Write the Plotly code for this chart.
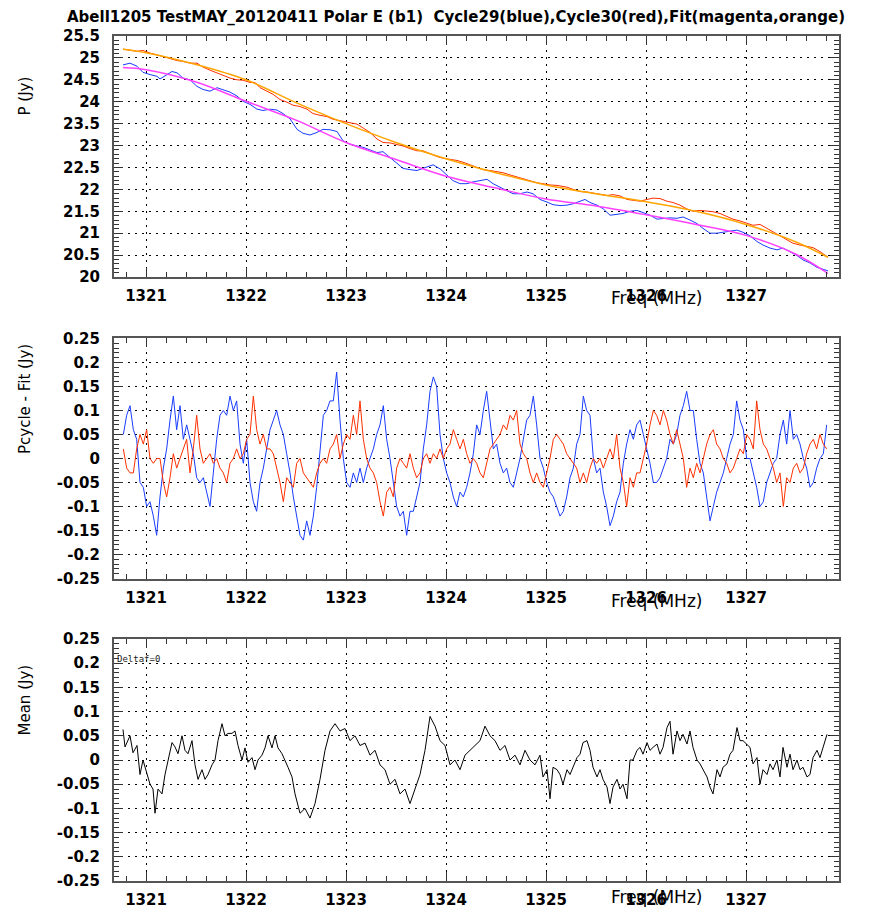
import numpy as np
import plotly.graph_objects as go

# ---------------- data ----------------
# residual channels: uniform frequency grid
F0 = 1320.7733
DF = 1.0 / 30.0
NCH = 212

resid_blue = [
    0.05,0.09,0.11,0.06,0.04,-0.05,-0.06,-0.1,-0.09,-0.12,
    -0.16,-0.08,-0.02,0.02,0.08,0.13,0.06,0.11,0.04,0.07,
    0.04,0.01,-0.04,-0.05,-0.04,-0.07,-0.1,-0.03,0.04,0.09,
    0.1,0.09,0.13,0.1,0.12,0.03,-0.01,0.04,-0.05,-0.09,
    -0.11,-0.05,-0.02,0.02,0.06,0.08,0.1,0.07,0.05,0.01,
    -0.03,-0.08,-0.12,-0.16,-0.17,-0.13,-0.16,-0.12,-0.06,0.01,
    0.09,0.1,0.12,0.12,0.18,
    0.08,0.0,-0.05,-0.06,-0.03,-0.05,-0.02,-0.05,-0.02,0.0,
    0.02,0.05,0.07,0.11,0.04,0.0,-0.05,-0.1,-0.12,-0.11,
    -0.16,-0.11,-0.11,-0.08,-0.05,0.02,0.07,0.14,0.17,0.15,
    0.05,0.0,-0.03,-0.05,-0.08,-0.1,-0.07,-0.08,-0.06,-0.03,
    0.01,0.07,0.05,0.1,0.14,0.08,0.02,0.03,-0.01,-0.03,
    -0.02,-0.05,-0.06,-0.03,0.0,0.04,0.08,0.09,0.13,0.07,
    0.0,-0.02,-0.05,-0.07,-0.08,-0.1,-0.12,-0.11,-0.08,-0.04,
    -0.02,0.03,
    0.05,0.13,0.1,0.09,0.0,-0.03,-0.02,-0.07,-0.1,-0.14,
    -0.12,-0.09,-0.07,-0.01,0.03,0.06,0.04,0.07,0.08,0.05,
    0.02,-0.01,-0.05,-0.05,-0.04,-0.02,0.0,0.04,0.03,0.05,
    0.09,0.11,0.14,0.1,0.1,0.04,-0.01,-0.03,-0.08,-0.13,
    -0.1,-0.07,-0.05,-0.03,0.0,0.03,0.05,0.12,0.08,0.06,
    0.0,0.0,-0.03,-0.06,-0.1,-0.09,-0.05,-0.03,-0.01,0.0,
    0.05,0.08,0.03,0.1,0.04,0.05,0.03,0.0,-0.02,-0.06,
    -0.05,-0.02,0.0,0.01,0.07,
]

resid_red = [
    0.02,-0.02,-0.03,-0.03,0.02,0.05,0.03,0.06,0.0,-0.01,
    0.0,0.0,-0.05,-0.08,-0.04,0.01,-0.02,0.0,0.02,0.04,
    -0.03,0.02,0.09,0.02,-0.01,0.0,0.01,-0.01,0.0,-0.02,
    -0.03,-0.05,-0.01,0.0,0.02,0.0,0.01,0.04,0.05,0.13,
    0.06,0.03,0.05,0.02,0.02,0.01,-0.02,-0.05,-0.09,-0.04,
    -0.05,-0.06,-0.01,0.0,-0.03,-0.04,-0.05,-0.06,-0.03,-0.01,
    0.0,-0.01,0.02,0.03,0.05,
    0.0,0.03,0.05,0.04,0.09,0.05,0.12,0.04,0.0,-0.02,
    -0.03,-0.05,-0.09,-0.12,-0.07,-0.06,-0.08,-0.02,0.0,-0.01,
    -0.02,0.01,-0.02,-0.04,-0.03,0.0,0.01,-0.01,0.01,0.0,
    0.02,0.0,0.02,0.03,0.06,0.04,0.02,0.04,0.01,-0.01,
    0.0,-0.01,-0.03,-0.04,-0.01,0.02,0.03,0.04,0.05,0.07,
    0.06,0.09,0.08,0.1,0.03,0.01,0.0,-0.03,-0.05,-0.03,
    -0.05,-0.06,-0.03,0.0,0.04,0.05,0.04,0.03,0.01,0.0,
    -0.01,-0.02,
    -0.05,-0.03,-0.05,-0.02,0.0,-0.01,0.0,-0.02,0.0,0.02,
    0.0,0.05,-0.02,-0.05,-0.1,-0.04,-0.06,-0.03,-0.03,0.0,
    0.03,0.07,0.1,0.09,0.07,0.1,0.08,0.05,0.03,0.06,
    0.03,0.0,-0.06,-0.02,-0.04,-0.01,-0.03,0.0,0.03,0.05,
    0.06,0.03,0.02,0.0,-0.01,-0.03,-0.02,0.0,0.02,0.01,
    0.05,0.04,0.02,0.12,0.06,0.03,0.02,0.0,-0.02,-0.05,
    -0.03,-0.1,-0.04,-0.05,-0.02,-0.01,-0.03,-0.02,0.01,0.03,
    0.04,0.02,0.05,0.03,0.02,
]

# panel 1: measured P
pb_f = [1320.77,1320.84,1320.91,1320.97,1321.04,1321.11,1321.14,1321.21,1321.26,1321.31,
        1321.37,1321.44,1321.51,1321.57,1321.64,1321.71,1321.77,1321.84,1321.91,1321.97,
        1322.04,1322.11,1322.17,1322.24,1322.31,1322.37,1322.44,1322.51,1322.57,1322.64,
        1322.71,1322.77,1322.84,1322.91,1322.97,1323.04,1323.11,1323.17,1323.24,1323.31,
        1323.37,1323.44,1323.51,1323.57,1323.64,1323.71,1323.77,1323.84,1323.87,1323.94,
        1324.01,1324.07,1324.14,1324.21,1324.27,1324.34,1324.41,1324.47,1324.54,1324.61,
        1324.67,1324.74,1324.81,1324.87,1324.94,1325.01,1325.07,1325.14,1325.21,1325.27,
        1325.34,1325.39,1325.44,1325.51,1325.57,1325.64,1325.71,1325.77,1325.84,1325.91,
        1325.97,1326.04,1326.11,1326.17,1326.24,1326.31,1326.37,1326.44,1326.51,1326.57,
        1326.64,1326.71,1326.77,1326.84,1326.91,1326.97,1327.04,1327.11,1327.17,1327.24,
        1327.31,1327.37,1327.44,1327.51,1327.57,1327.64,1327.71,1327.77,1327.82]
pb_v = [24.84,24.88,24.81,24.67,24.62,24.58,24.52,24.62,24.69,24.66,
        24.54,24.50,24.35,24.28,24.24,24.32,24.28,24.22,24.13,24.01,
        23.94,23.83,23.80,23.83,23.81,23.73,23.61,23.37,23.28,23.24,
        23.30,23.37,23.36,23.32,23.11,23.03,22.99,22.96,22.90,22.84,
        22.86,22.73,22.58,22.48,22.45,22.43,22.48,22.53,22.56,22.47,
        22.32,22.20,22.13,22.13,22.17,22.20,22.23,22.13,22.05,21.98,
        21.90,21.90,21.94,21.90,21.77,21.71,21.65,21.63,21.64,21.67,
        21.72,21.77,21.70,21.64,21.56,21.41,21.43,21.45,21.50,21.52,
        21.47,21.41,21.32,21.34,21.35,21.34,21.37,21.30,21.22,21.11,
        21.00,21.00,21.02,21.03,21.07,21.02,20.94,20.81,20.73,20.66,
        20.62,20.66,20.58,20.49,20.39,20.32,20.22,20.17,20.14]

pr_f = [1320.77,1320.84,1320.91,1320.97,1321.04,1321.11,1321.17,1321.24,1321.31,1321.37,
        1321.44,1321.51,1321.57,1321.64,1321.71,1321.77,1321.84,1321.91,1321.97,1322.04,
        1322.09,1322.14,1322.21,1322.27,1322.34,1322.41,1322.47,1322.54,1322.61,1322.67,
        1322.74,1322.81,1322.87,1322.91,1322.97,1323.04,1323.11,1323.17,1323.24,1323.31,
        1323.37,1323.44,1323.51,1323.57,1323.64,1323.71,1323.77,1323.84,1323.91,1323.97,
        1324.04,1324.11,1324.17,1324.24,1324.31,1324.37,1324.44,1324.51,1324.57,1324.64,
        1324.71,1324.77,1324.84,1324.91,1324.97,1325.04,1325.11,1325.21,1325.27,1325.34,
        1325.41,1325.47,1325.54,1325.61,1325.67,1325.74,1325.81,1325.87,1325.94,1326.01,
        1326.07,1326.14,1326.21,1326.27,1326.34,1326.41,1326.47,1326.54,1326.61,1326.67,
        1326.74,1326.81,1326.87,1326.94,1327.01,1327.07,1327.14,1327.21,1327.27,1327.34,
        1327.41,1327.47,1327.54,1327.61,1327.67,1327.74,1327.82]
pr_v = [25.20,25.17,25.15,25.17,25.11,25.07,25.03,24.97,24.94,24.92,
        24.88,24.88,24.79,24.72,24.66,24.60,24.54,24.50,24.49,24.44,
        24.44,24.32,24.24,24.17,24.05,23.99,23.92,23.89,23.83,23.73,
        23.69,23.66,23.60,23.58,23.54,23.52,23.49,23.41,23.30,23.15,
        23.07,23.06,23.03,22.99,22.93,22.88,22.88,22.81,22.75,22.71,
        22.69,22.66,22.62,22.56,22.50,22.45,22.43,22.41,22.38,22.33,
        22.28,22.24,22.20,22.15,22.13,22.10,22.09,22.05,22.00,21.95,
        21.94,21.92,21.90,21.86,21.88,21.85,21.77,21.75,21.73,21.77,
        21.80,21.79,21.73,21.70,21.64,21.55,21.50,21.52,21.50,21.49,
        21.45,21.37,21.32,21.28,21.22,21.18,21.20,21.11,21.03,20.94,
        20.85,20.77,20.73,20.69,20.67,20.58,20.45]

# fits
fit_f = [1320.77,1321.0,1321.5,1322.0,1322.5,1323.0,1323.5,1324.0,1324.5,1325.0,
         1325.5,1326.0,1326.5,1327.0,1327.5,1327.82]
fit_magenta = [24.78,24.73,24.45,24.01,23.58,23.07,22.68,22.30,22.03,21.78,
               21.62,21.42,21.20,20.95,20.52,20.08]
fit_orange = [25.20,25.12,24.85,24.50,23.98,23.50,23.07,22.70,22.38,22.10,
              21.90,21.72,21.50,21.20,20.80,20.45]

# panel 3: mean residual, (freq, value) pairs
mean_pts = [
    (1320.77,0.063),(1320.79,0.027),(1320.84,0.05),(1320.87,0.015),(1320.91,0.03),
    (1320.94,-0.03),(1320.97,0.0),(1321.00,-0.02),(1321.04,-0.05),(1321.07,-0.06),
    (1321.09,-0.11),(1321.12,-0.06),(1321.16,-0.07),(1321.19,-0.03),(1321.22,0.0),
    (1321.26,0.036),(1321.29,0.027),(1321.32,0.013),(1321.36,0.05),(1321.39,0.02),
    (1321.42,0.013),(1321.46,0.04),(1321.49,-0.01),(1321.52,-0.04),(1321.56,-0.02),
    (1321.59,-0.04),(1321.62,-0.03),(1321.66,-0.01),(1321.69,0.0),(1321.72,0.04),
    (1321.76,0.075),(1321.79,0.05),(1321.82,0.055),(1321.86,0.055),(1321.89,0.06),
    (1321.92,0.03),(1321.96,0.0),(1321.99,0.025),(1322.02,-0.005),(1322.06,0.005),
    (1322.09,-0.02),(1322.12,0.0),(1322.16,0.01),(1322.19,0.025),(1322.22,0.05),
    (1322.26,0.025),(1322.29,0.05),(1322.32,0.025),(1322.36,0.013),(1322.39,0.0),
    (1322.42,-0.015),(1322.46,-0.035),(1322.49,-0.07),
    (1322.54,-0.11),(1322.59,-0.10),(1322.64,-0.12),(1322.69,-0.09),(1322.74,-0.04),
    (1322.79,0.02),(1322.84,0.06),(1322.89,0.075),(1322.94,0.06),(1322.99,0.065),
    (1323.04,0.04),(1323.09,0.05),(1323.14,0.03),(1323.19,0.035),(1323.24,0.01),
    (1323.29,0.02),(1323.34,-0.01),(1323.39,-0.02),(1323.44,-0.05),(1323.49,-0.04),
    (1323.54,-0.07),(1323.59,-0.06),(1323.64,-0.09),(1323.69,-0.06),(1323.74,-0.03),
    (1323.79,0.02),(1323.84,0.09),(1323.89,0.07),(1323.94,0.04),(1323.99,0.03),
    (1324.04,-0.01),(1324.09,0.0),(1324.14,-0.02),(1324.19,0.01),(1324.24,0.02),
    (1324.29,0.03),(1324.34,0.04),(1324.39,0.07),(1324.44,0.05),(1324.49,0.04),
    (1324.54,0.02),(1324.59,0.03),(1324.64,0.0),(1324.69,0.01),(1324.74,-0.01),
    (1324.79,0.02),(1324.84,0.0),(1324.89,-0.01),
    (1324.94,0.01),(1324.97,-0.035),(1325.01,-0.02),(1325.04,-0.08),(1325.07,-0.015),
    (1325.11,-0.02),(1325.14,-0.03),(1325.17,-0.05),(1325.21,-0.02),(1325.24,-0.03),
    (1325.27,-0.015),(1325.31,0.005),(1325.34,0.012),(1325.37,0.036),(1325.41,0.04),
    (1325.44,0.02),(1325.47,-0.015),(1325.51,-0.035),(1325.54,-0.02),(1325.57,-0.04),
    (1325.61,-0.056),(1325.64,-0.09),(1325.67,-0.056),(1325.71,-0.04),(1325.74,-0.06),
    (1325.77,-0.05),(1325.81,-0.08),(1325.84,0.0),(1325.87,0.0),(1325.91,0.02),
    (1325.94,0.026),(1325.97,0.012),(1326.01,0.036),(1326.04,0.02),(1326.07,0.026),
    (1326.11,0.033),(1326.14,0.012),(1326.17,0.026),(1326.21,0.067),(1326.24,0.08),
    (1326.27,0.012),(1326.31,0.06),(1326.34,0.04),(1326.37,0.053),(1326.41,0.033),
    (1326.44,0.06),(1326.47,0.026),(1326.51,0.0),(1326.54,-0.008),(1326.57,-0.02),
    (1326.61,-0.035),(1326.64,-0.056),(1326.67,-0.07),(1326.71,-0.02),(1326.74,-0.035),
    (1326.77,-0.015),(1326.81,-0.008),(1326.84,0.012),(1326.87,0.02),(1326.91,0.067),
    (1326.94,0.04),(1326.97,0.04),(1327.01,0.033),(1327.04,0.026),(1327.07,-0.008),
    (1327.11,0.005),(1327.14,-0.05),(1327.17,-0.02),(1327.21,-0.03),(1327.24,-0.008),
    (1327.27,-0.02),(1327.31,0.0),(1327.34,-0.035),(1327.37,0.026),(1327.41,-0.015),
    (1327.44,0.012),(1327.47,-0.02),(1327.51,0.0),(1327.54,-0.02),(1327.57,-0.015),
    (1327.61,-0.035),(1327.64,-0.03),(1327.67,0.005),(1327.71,0.02),(1327.74,0.005),
    (1327.77,0.026),(1327.81,0.053),
]

x_ticks = [1321, 1322, 1323, 1324, 1325, 1326, 1327]
p_ticks = [20, 20.5, 21, 21.5, 22, 22.5, 23, 23.5, 24, 24.5, 25, 25.5]
p_labels = ["20", "20.5", "21", "21.5", "22", "22.5", "23", "23.5", "24", "24.5", "25", "25.5"]
r_ticks = [-0.25, -0.2, -0.15, -0.1, -0.05, 0, 0.05, 0.1, 0.15, 0.2, 0.25]
r_labels = ["-0.25", "-0.2", "-0.15", "-0.1", "-0.05", "0", "0.05", "0.1", "0.15", "0.2", "0.25"]

TITLE = "Abell1205 TestMAY_20120411 Polar E (b1)  Cycle29(blue),Cycle30(red),Fit(magenta,orange)"

# ---------------- figure ----------------
freq = F0 + DF * np.arange(NCH)
mean_f = [p[0] for p in mean_pts]
mean_v = [p[1] for p in mean_pts]

fig = go.Figure()
fig.add_trace(go.Scatter(x=pr_f, y=pr_v, mode="lines", line=dict(color="#ff3000", width=1), xaxis="x", yaxis="y"))
fig.add_trace(go.Scatter(x=fit_f, y=fit_orange, mode="lines", line=dict(color="#ffa500", width=1.5, shape="spline"), xaxis="x", yaxis="y"))
fig.add_trace(go.Scatter(x=pb_f, y=pb_v, mode="lines", line=dict(color="#1a3cff", width=1), xaxis="x", yaxis="y"))
fig.add_trace(go.Scatter(x=fit_f, y=fit_magenta, mode="lines", line=dict(color="#ff40ff", width=1.5, shape="spline"), xaxis="x", yaxis="y"))

fig.add_trace(go.Scatter(x=freq, y=resid_blue, mode="lines", line=dict(color="#1a3cff", width=1), xaxis="x2", yaxis="y2"))
fig.add_trace(go.Scatter(x=freq, y=resid_red, mode="lines", line=dict(color="#ff3000", width=1), xaxis="x2", yaxis="y2"))

fig.add_trace(go.Scatter(x=mean_f, y=mean_v, mode="lines", line=dict(color="black", width=1), xaxis="x3", yaxis="y3"))

tickfont = dict(family="DejaVu Sans", size=15, color="black", weight="bold")

def xax(anchor):
    return dict(
        anchor=anchor, domain=[0, 1], range=[1320.68, 1327.93],
        tickmode="array", tickvals=x_ticks, ticktext=[str(t) for t in x_ticks],
        ticks="inside", ticklen=9, tickwidth=1, tickcolor="#333",
        minor=dict(tickmode="linear", tick0=1321, dtick=0.2, ticks="inside", ticklen=5,
                   tickcolor="#333", showgrid=False),
        showgrid=True, gridcolor="black", gridwidth=1, griddash="2px,5px",
        showline=True, linecolor="#555", linewidth=2, mirror="ticks",
        zeroline=False, tickfont=tickfont, ticklabelstandoff=4,
    )

def yax(anchor, domain, rng, vals, labels, minor_dtick):
    return dict(
        anchor=anchor, domain=domain, range=rng,
        tickmode="array", tickvals=vals, ticktext=labels,
        ticks="inside", ticklen=9, tickwidth=1, tickcolor="#333",
        minor=dict(tickmode="linear", tick0=rng[0], dtick=minor_dtick, ticks="inside", ticklen=5,
                   tickcolor="#333", showgrid=False),
        showgrid=True, gridcolor="black", gridwidth=1, griddash="2px,5px",
        showline=True, linecolor="#555", linewidth=2, mirror="ticks",
        zeroline=False, tickfont=tickfont, ticklabelstandoff=9,
    )

# the page body offsets the figure by 8px; the figure fills the rest of the 870x921 window
OFF = 8
FIG_W, FIG_H = 870 - OFF, 921 - OFF
# plot area in window pixels: x 114..839, y 36..888
top, bot = 36, 888
ph = bot - top
def py(y):
    return (bot - y) / ph

def px(x):
    return (x - 114) / 725.0

fig.update_layout(
    width=FIG_W, height=FIG_H,
    margin=dict(l=114 - OFF, r=FIG_W - (839 - OFF), t=top - OFF, b=FIG_H - (bot - OFF), pad=0),
    paper_bgcolor="white", plot_bgcolor="white",
    showlegend=False,
    xaxis=xax("y"), yaxis=yax("x", [py(279), 1], [20, 25.5], p_ticks, p_labels, 0.1),
    xaxis2=xax("y2"), yaxis2=yax("x2", [py(583), py(341)], [-0.25, 0.25], r_ticks, r_labels, 0.01),
    xaxis3=xax("y3"), yaxis3=yax("x3", [0, py(644)], [-0.25, 0.25], r_ticks, r_labels, 0.01),
)

ann = [
    dict(text=TITLE, x=px(456), y=py(17), font=dict(family="DejaVu Sans", size=15, color="black", weight="bold")),
    dict(text="P (Jy)", x=px(25), y=py(97), textangle=-90, font=dict(family="DejaVu Sans", size=15, color="black")),
    dict(text="Pcycle - Fit (Jy)", x=px(25), y=py(402), textangle=-90, font=dict(family="DejaVu Sans", size=15, color="black")),
    dict(text="Mean (Jy)", x=px(25), y=py(706), textangle=-90, font=dict(family="DejaVu Sans", size=15, color="black")),
    dict(text="Freq (MHz)", x=px(656), y=py(300), font=dict(family="DejaVu Sans", size=17, color="black")),
    dict(text="Freq (MHz)", x=px(656), y=py(606), font=dict(family="DejaVu Sans", size=17, color="black")),
    dict(text="Freq (MHz)", x=px(656), y=py(904), font=dict(family="DejaVu Sans", size=17, color="black")),
]
annotations = []
for a in ann:
    d = dict(xref="paper", yref="paper", showarrow=False, xanchor="center", yanchor="middle")
    d.update(a)
    annotations.append(d)
annotations.append(dict(text="Deltaf=0", xref="paper", yref="paper", x=px(115), y=py(664),
                        xanchor="left", yanchor="middle", showarrow=False,
                        font=dict(family="DejaVu Sans Mono", size=9, color="#222")))
fig.update_layout(annotations=annotations)

fig.write_html("out.html")
